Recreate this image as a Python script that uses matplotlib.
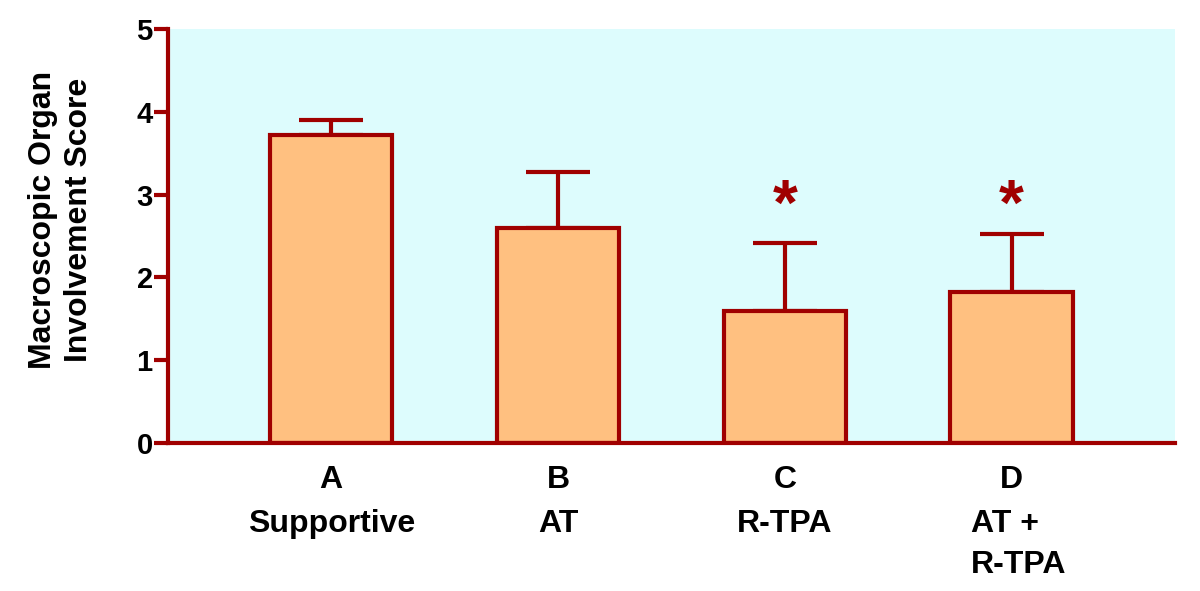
import matplotlib
matplotlib.use("Agg")
import matplotlib.pyplot as plt
import matplotlib.transforms as mtransforms

plt.rcParams['font.family'] = ['Liberation Sans', 'DejaVu Sans']
plt.rcParams['font.weight'] = 'bold'

letters = ['A', 'B', 'C', 'D']
groups = ['Supportive', 'AT', 'R-TPA', 'AT +\nR-TPA']
means = [3.72, 2.60, 1.59, 1.82]
errors = [0.18, 0.67, 0.82, 0.70]
significant = [False, False, True, True]

red = '#a00000'
fig = plt.figure(figsize=(12, 5.91), dpi=100)
ax = fig.add_axes([0.14, 0.2504, 0.839, 0.7006])
ax.set_facecolor('#ddfcfd')

x = range(len(means))
ax.bar(x, means, width=0.54, color='#ffc080', edgecolor=red, linewidth=3, zorder=2)
ax.errorbar(x, means, yerr=[[0] * len(errors), errors], fmt='none', ecolor=red,
            elinewidth=3, capsize=23, capthick=3, zorder=1)

for i, s in enumerate(significant):
    if s:
        ax.text(i, 2.63, '*', color=red, fontsize=46, ha='center', va='baseline')

ax.set_xlim(-0.72, 3.72)
ax.set_ylim(0, 5)
ax.set_yticks([0, 1, 2, 3, 4, 5])
ax.set_xticks(list(x))
ax.set_xticklabels([])
ax.tick_params(axis='x', length=0)
ax.tick_params(axis='y', length=10, width=3, color=red, labelsize=21, pad=1)

# category labels under the axis: letter, then group name (one text per line)
trans = mtransforms.blended_transform_factory(ax.transData, ax.transAxes)
for i, (letter, g) in enumerate(zip(letters, groups)):
    ax.text(i, -0.109, letter, transform=trans, ha='center', va='baseline', fontsize=23)
    lines = g.split('\n')
    xpos, ha = (i, 'center') if len(lines) == 1 else (i - 0.18, 'left')
    for k, line in enumerate(lines):
        ax.text(xpos, -0.215 - 0.099 * k, line, transform=trans, ha=ha,
                va='baseline', fontsize=23)

for side in ['top', 'right']:
    ax.spines[side].set_visible(False)
for side in ['left', 'bottom']:
    ax.spines[side].set_color(red)
    ax.spines[side].set_linewidth(3)

fig.text(61 / 1200, 1 - 220 / 591, 'Macroscopic Organ\nInvolvement Score', rotation=90,
         ha='center', va='center', fontsize=23, fontweight='bold', linespacing=1.22)

fig.savefig('out.png', dpi=100)
